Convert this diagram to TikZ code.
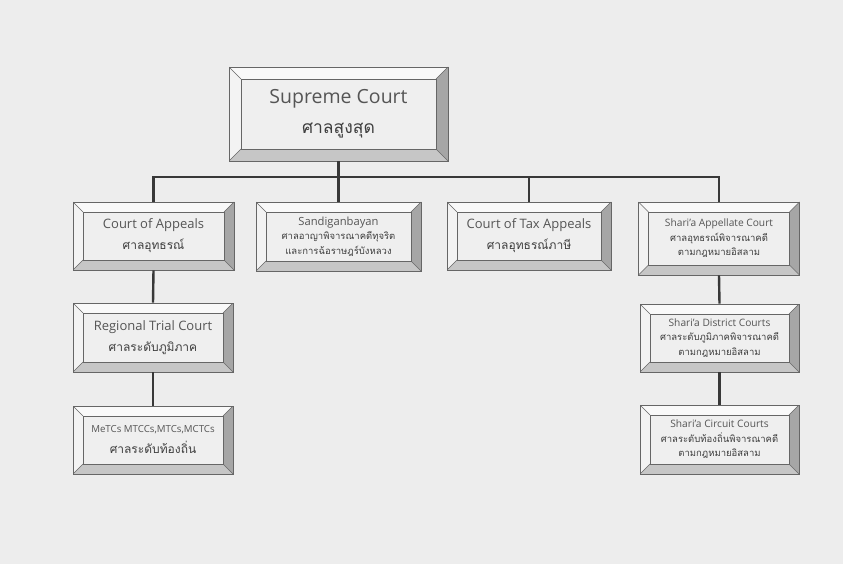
\documentclass[tikz,border=0pt]{standalone}
\usepackage{fontspec}
\setmainfont{Open Sans}
\newfontfamily\thaifont[Script=Thai]{Loma}
\usetikzlibrary{calc}
\definecolor{paper}{HTML}{EDEDED}
\definecolor{facec}{HTML}{EFEFEF}
\definecolor{topc}{HTML}{F9F9F9}
\definecolor{leftc}{HTML}{F3F3F3}
\definecolor{rightc}{HTML}{A6A6A6}
\definecolor{botc}{HTML}{C6C6C6}
\definecolor{edgec}{HTML}{666666}
\definecolor{linec}{HTML}{383838}
\definecolor{txtc}{HTML}{555555}
\definecolor{thtxt}{HTML}{3E3E3E}
\tikzset{
  bevel/.store in=\bevw, bevel=10pt,
  bevelbox/.style={rectangle, draw=edgec, line width=0.6pt, fill=facec,
    inner sep=0pt, align=center, text=txtc,
    path picture={
      \path (path picture bounding box.south west) coordinate (bsw)
            (path picture bounding box.north east) coordinate (bne);
      \path ($(bsw)+(\bevw,\bevw)$) coordinate (isw)
            ($(bne)-(\bevw,\bevw)$) coordinate (ine);
      \fill[topc] (bsw |- bne) -- (bne) -- (ine) -- (isw |- ine) -- cycle;
      \fill[leftc] (bsw) -- (bsw |- bne) -- (isw |- ine) -- (isw) -- cycle;
      \fill[rightc] (bne) -- (bne |- bsw) -- (ine |- isw) -- (ine) -- cycle;
      \fill[botc] (bsw) -- (bne |- bsw) -- (ine |- isw) -- (isw) -- cycle;
      \draw[edgec, line width=0.45pt] (bsw) -- (isw) (bsw |- bne) -- (isw |- ine)
        (bne) -- (ine) (bne |- bsw) -- (ine |- isw);
      \draw[edgec, line width=0.5pt, fill=facec] (isw) rectangle (ine);
    }},
  conn/.style={draw=linec, line width=2.4pt}
}
\newcommand{\thl}[2][9.5]{{\fontsize{#1}{14}\selectfont\thaifont\color{thtxt}#2}}
\begin{document}
\begin{tikzpicture}[x=1pt,y=-1pt]
\fill[paper] (0,0) rectangle (843,564);
\useasboundingbox (0,0) rectangle (843,564);

\node[bevelbox, bevel=12pt, minimum width=219pt, minimum height=94pt,
  font=\fontsize{19.5}{30}\selectfont] (sup) at (338.5,114)
  {Supreme Court\\\thl[17.5]{ศาลสูงสุด}};

\node[bevelbox, minimum width=161pt, minimum height=68pt,
  font=\fontsize{13}{21}\selectfont] (coa) at (153.5,236)
  {Court of Appeals\\\thl[12]{ศาลอุทธรณ์}};

\node[bevelbox, minimum width=165pt, minimum height=69pt,
  font=\fontsize{11.2}{14.5}\selectfont] (san) at (338.5,236.5)
  {Sandiganbayan\\\thl{ศาลอาญาพิจารณาคดีทุจริต}\\\thl{และการฉ้อราษฎร์บังหลวง}};

\node[bevelbox, minimum width=164pt, minimum height=68pt,
  font=\fontsize{13}{21}\selectfont] (cta) at (529,236)
  {Court of Tax Appeals\\\thl[12]{ศาลอุทธรณ์ภาษี}};

\node[bevelbox, minimum width=161pt, minimum height=73pt,
  font=\fontsize{10.2}{14.5}\selectfont] (sac) at (719,238.5)
  {Shari'a Appellate Court\\\thl{ศาลอุทธรณ์พิจารณาคดี}\\\thl{ตามกฎหมายอิสลาม}};

\node[bevelbox, minimum width=160pt, minimum height=69pt,
  font=\fontsize{13}{21}\selectfont] (rtc) at (153,337.5)
  {Regional Trial Court\\\thl[12]{ศาลระดับภูมิภาค}};

\node[bevelbox, minimum width=160pt, minimum height=68pt,
  font=\fontsize{9.7}{21}\selectfont] (mtc) at (153,440)
  {MeTCs MTCCs,MTCs,MCTCs\\\thl[12]{ศาลระดับท้องถิ่น}};

\node[bevelbox, minimum width=159pt, minimum height=68pt,
  font=\fontsize{10.2}{14.5}\selectfont] (sdc) at (719.5,338)
  {Shari'a District Courts\\\thl{ศาลระดับภูมิภาคพิจารณาคดี}\\\thl{ตามกฎหมายอิสลาม}};

\node[bevelbox, minimum width=159pt, minimum height=69pt,
  font=\fontsize{10.2}{14.5}\selectfont] (scc) at (719.5,439.5)
  {Shari'a Circuit Courts\\\thl{ศาลระดับท้องถิ่นพิจารณาคดี}\\\thl{ตามกฎหมายอิสลาม}};

\coordinate (bus) at (340,177);
\draw[conn] (sup.south) -- (sup.south |- bus);
\draw[conn, line cap=rect] (coa.north |- bus) -- (sac.north |- bus);
\draw[conn] (coa.north |- bus) -- (coa.north);
\draw[conn] (san.north |- bus) -- (san.north);
\draw[conn] (cta.north |- bus) -- (cta.north);
\draw[conn] (sac.north |- bus) -- (sac.north);
\draw[conn] (coa.south) -- (rtc.north);
\draw[conn] (rtc.south) -- (mtc.north);
\draw[conn] (sac.south) -- (sdc.north);
\draw[conn] (sdc.south) -- (scc.north);
\end{tikzpicture}
\end{document}
